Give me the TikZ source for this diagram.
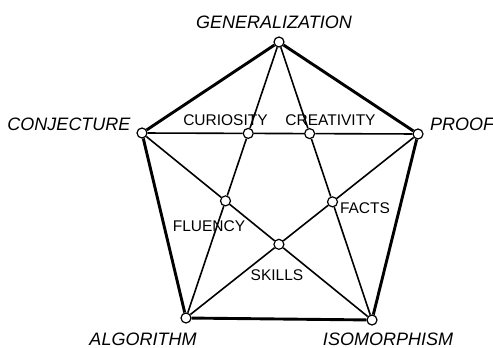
\documentclass[tikz,border=0pt]{standalone}
\usepackage{fontspec}
\setmainfont{Liberation Sans}
\usepackage{tikz}
\usetikzlibrary{positioning, calc}

\begin{document}
\begin{tikzpicture}[
    x=1pt, y=-1pt,
    punto/.style={circle, draw, fill=white, line width=1.2pt, inner sep=0pt,
                  minimum size=10pt},
    vertice/.style={font=\fontsize{18}{20}\selectfont\itshape, inner sep=0pt},
    cruce/.style={font=\fontsize{15.5}{18}\selectfont, inner sep=0pt},
    borde/.style={line width=2.9pt},
    diag/.style={line width=1.6pt}
  ]
  \useasboundingbox (0,0) rectangle (493,348);

  % --- Vertices del pentagono ---
  \node[punto] (gen) at (279,42) {};
  \node[punto] (con) at (142,133) {};
  \node[punto] (pro) at (418,134) {};
  \node[punto] (alg) at (186,318) {};
  \node[punto] (iso) at (372,320) {};

  % --- Cruces de las diagonales ---
  \node[punto] (cur) at (intersection of gen--alg and con--pro) {};
  \node[punto] (cre) at (intersection of gen--iso and con--pro) {};
  \node[punto] (flu) at (intersection of gen--alg and con--iso) {};
  \node[punto] (fac) at (intersection of gen--iso and pro--alg) {};
  \node[punto] (ski) at (intersection of con--iso and pro--alg) {};

  % --- Lados ---
  \draw[borde] (gen) -- (pro) -- (iso) -- (alg) -- (con) -- (gen);

  % --- Diagonales ---
  \draw[diag] (con) -- (cur) -- (cre) -- (pro);
  \draw[diag] (gen) -- (cur) -- (flu) -- (alg);
  \draw[diag] (gen) -- (cre) -- (fac) -- (iso);
  \draw[diag] (con) -- (flu) -- (ski) -- (iso);
  \draw[diag] (pro) -- (fac) -- (ski) -- (alg);

  % --- Etiquetas ---
  \node[vertice] (tgen) at (274,22) {GENERALIZATION};
  \node[vertice] (tcon) at (69,124) {CONJECTURE};
  \node[vertice] (tpro) at (462,124) {PROOF};
  \node[vertice] (talg) at (143,339) {ALGORITHM};
  \node[vertice] (tiso) at (388,339) {ISOMORPHISM};
  \node[cruce] (tcur) at (225.5,120) {CURIOSITY};
  \node[cruce] (tcre) at (330.5,120) {CREATIVITY};
  \node[cruce] (tflu) at (209,226) {FLUENCY};
  \node[cruce] (tfac) at (365,208) {FACTS};
  \node[cruce] (tski) at (277,275) {SKILLS};

\end{tikzpicture}
\end{document}
